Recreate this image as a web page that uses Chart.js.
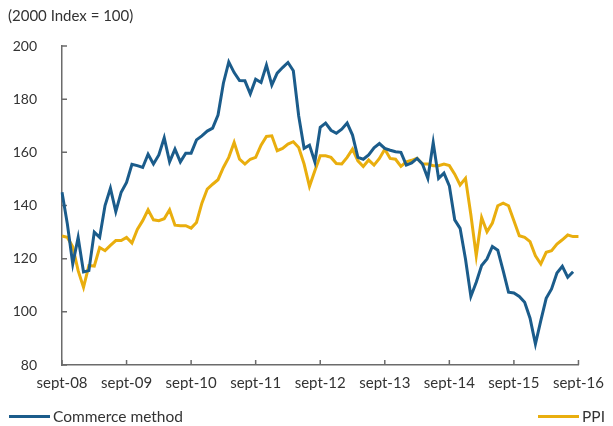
<!DOCTYPE html>
<html>
<head>
<meta charset="utf-8">
<script src="https://cdn.jsdelivr.net/npm/chart.js@4"></script>
<style>
  body { margin: 0; background: #fff; font-family: Lato, sans-serif; color: #333; }
  #wrap { position: relative; width: 613px; height: 426px; }
  #title { position: absolute; left: 8px; top: 6px; font-size: 15px; }
  .key { position: absolute; top: 407px; font-size: 15.5px; display: flex; align-items: center; }
  .key i { display: inline-block; width: 41px; height: 3px; margin-right: 3px; }
</style>
</head>
<body>
<div id="wrap">
  <canvas id="chart"></canvas>
  <div id="title">(2000 Index = 100)</div>
  <div class="key" style="left:9px"><i style="background:#1b5c8b"></i>Commerce method</div>
  <div class="key" style="right:8px"><i style="background:#e9ae0e"></i>PPI</div>
</div>
<script>
(() => {
  'use strict'

  // monthly, sept-08 .. sept-16
  const monthNames = ['janv', 'févr', 'mars', 'avr', 'mai', 'juin', 'juil', 'août', 'sept', 'oct', 'nov', 'déc']
  const months = []
  for (let i = 0; i < 97; i++) {
    const m = (8 + i) % 12
    const yr = 8 + Math.floor((8 + i) / 12)
    months.push(monthNames[m] + '-' + String(yr).padStart(2, '0'))
  }

  const commerce = [
    145, 133, 118, 128, 115, 115.5, 130, 128, 140, 146.5, 137.7, 145,
    148.7, 155.5, 155, 154.3, 159.3, 155.6, 159, 165.5, 156.4, 161.2, 156.4, 159.7,
    159.7, 164.7, 166.2, 168, 169.1, 174, 186, 194, 190, 187, 186.9, 182,
    187.5, 186.3, 192.8, 185.3, 189.8, 191.9, 193.8, 190.7, 173.7, 161.5, 162.7, 156.4,
    169.4, 171, 168.3, 167.2, 168.7, 171, 166.5, 158.1, 157.4, 159, 161.7, 163.3,
    161.5, 160.8, 160.2, 160, 155.2, 156, 157.7, 155.6, 150.2, 163.7, 150.2, 152.2,
    147.4, 134.6, 131.4, 119.9, 105.8, 111.1, 117.4, 119.9, 124.6, 123.2, 115.5, 107.4,
    107.1, 105.8, 103.6, 97.6, 87.9, 96.7, 105.1, 108.6, 114.6, 117.1, 113, 115.1
  ]

  const ppi = [
    128.5, 128, 124.5, 115.5, 109.2, 117.4, 117.2, 124.2, 123, 125, 126.8, 126.8,
    128, 125.9, 131, 134.3, 138.4, 134.6, 134.3, 135, 138.4, 132.6, 132.4, 132.4,
    131.5, 133.6, 140.9, 146.2, 148, 149.7, 154.3, 158.1, 163.7, 157.4, 155.6, 157.4,
    158.1, 162.7, 166, 166.2, 160.6, 161.5, 163.1, 164, 161.8, 155.6, 147.2, 153.1,
    158.7, 158.7, 158.1, 155.8, 155.6, 158.1, 161.2, 156.8, 154.7, 157.1, 155.2, 157.7,
    161.2, 157.7, 157.4, 154.7, 156.4, 157, 157.8, 155.6, 155.6, 155, 155, 155.6,
    155, 151.8, 147.7, 150.2, 136.5, 121.1, 135.5, 130.1, 133.4, 139.9, 140.9, 139.9,
    134.3, 128.6, 128, 126.4, 121.1, 118, 122.4, 123, 125.5, 127.1, 128.9, 128.3,
    128.3
  ]

  const axisColor = '#6b6b6b'

  // small tick marks pointing into the plot
  const innerTicks = {
    id: 'innerTicks',
    beforeDatasetsDraw(chart) {
      const { ctx, scales: { x, y }, chartArea: a } = chart
      ctx.save()
      ctx.strokeStyle = axisColor
      ctx.lineWidth = 1.5
      ctx.beginPath()
      x.ticks.forEach(t => {
        const px = x.getPixelForValue(t.value)
        ctx.moveTo(px, a.bottom)
        ctx.lineTo(px, a.bottom - 5)
      })
      y.ticks.forEach(t => {
        const py = y.getPixelForValue(t.value)
        ctx.moveTo(a.left, py)
        ctx.lineTo(a.left + 5, py)
      })
      ctx.stroke()
      ctx.restore()
    }
  }

  Chart.defaults.font.family = 'Lato, sans-serif'
  Chart.defaults.font.size = 14
  Chart.defaults.color = '#333'

  new Chart(document.getElementById('chart'), {
    type: 'line',
    data: {
      labels: months,
      datasets: [{
        label: 'Commerce method',
        data: commerce,
        borderColor: '#1b5c8b',
        borderWidth: 3,
        pointRadius: 0,
        tension: 0
      }, {
        label: 'PPI',
        data: ppi,
        borderColor: '#e9ae0e',
        borderWidth: 3,
        pointRadius: 0,
        tension: 0
      }]
    },
    options: {
      responsive: true,
      maintainAspectRatio: false,
      animation: false,
      layout: { padding: { top: 46, left: 10, right: 30, bottom: 36 } },
      plugins: {
        legend: { display: false },
        tooltip: { enabled: false }
      },
      scales: {
        x: {
          offset: false,
          grid: { drawOnChartArea: false, drawTicks: false },
          border: { color: axisColor, width: 1.5 },
          ticks: { autoSkip: false, maxRotation: 0, padding: 9, font: { size: 15 } },
          afterBuildTicks: s => { s.ticks = s.ticks.filter(t => t.value % 12 === 0) },
          afterFit: s => { s.height = 25 }
        },
        y: {
          min: 80,
          max: 200,
          grid: { drawOnChartArea: false, drawTicks: false },
          border: { color: axisColor, width: 1.5 },
          ticks: { stepSize: 20, padding: 25 },
          afterFit: s => { s.width = 52 }
        }
      }
    },
    plugins: [innerTicks]
  })
})()
</script>
</body>
</html>
